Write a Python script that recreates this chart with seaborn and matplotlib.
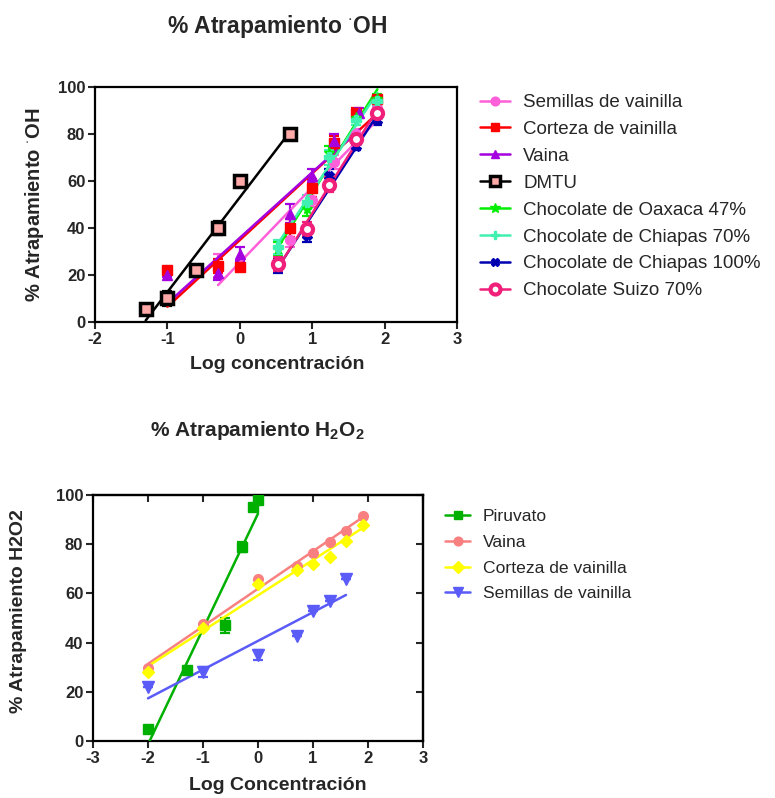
import matplotlib
matplotlib.use("Agg")
import matplotlib.pyplot as plt
from matplotlib.lines import Line2D
import pandas as pd
import seaborn as sns

# ---- top chart: % scavenging of OH radical ----
semillas_x = [-0.3, 0.7, 1.0, 1.3, 1.6, 1.9]
semillas_y = [24, 35, 52, 68, 80, 91]
semillas_err = [5, 3, 3, 3, 2, 2]

corteza_x = [-1.0, -0.3, 0.0, 0.7, 1.0, 1.3, 1.6, 1.9]
corteza_y = [22, 24, 23.5, 40, 57, 76, 89, 95]
corteza_err = [1, 3, 2, 4, 4, 3, 2, 1]

vaina_x = [-1.0, -0.3, 0.0, 0.7, 1.0, 1.3, 1.65]
vaina_y = [20, 21, 29, 46, 62, 77, 89]
vaina_err = [1, 3, 3, 4, 3, 3, 2]

dmtu_x = [-1.3, -1.0, -0.6, -0.3, 0.0, 0.7]
dmtu_y = [5.5, 10, 22, 40, 60, 80]
dmtu_err = [1, 3, 2, 3, 1, 1]

choc_x = [0.53, 0.93, 1.23, 1.6, 1.9]
oaxaca_y = [31, 48, 72, 87, 95]
chiapas70_y = [32, 51, 70, 86, 94]
chiapas100_y = [24, 37, 62, 75, 86]
suizo_y = [24.5, 39.5, 58.5, 78, 89]
choc_err = [3, 3, 3, 2, 2]

# ---- bottom chart: % scavenging of H2O2 ----
piruvato_x = [-2.0, -1.3, -0.6, -0.3, -0.1, 0.0]
piruvato_y = [5, 29, 47, 79, 95, 98]
piruvato_err = [0, 0, 3, 2, 0, 0]

vaina2_x = [-2.0, -1.0, 0.0, 0.7, 1.0, 1.3, 1.6, 1.9]
vaina2_y = [29.5, 47.5, 66, 71, 76.5, 81, 85.5, 91.5]

corteza2_x = [-2.0, -1.0, 0.0, 0.7, 1.0, 1.3, 1.6, 1.9]
corteza2_y = [28, 46, 64, 69.5, 72, 75, 81.5, 88]

semillas2_x = [-2.0, -1.0, 0.0, 0.7, 1.0, 1.3, 1.6]
semillas2_y = [22, 28, 35, 42.5, 53, 57, 66]
semillas2_err = [0, 2, 2, 0, 0, 0, 0]

sns.set_style("ticks")
plt.rcParams["font.family"] = ["Liberation Sans", "DejaVu Sans"]
plt.rcParams["mathtext.fontset"] = "custom"
plt.rcParams["mathtext.rm"] = "Liberation Sans:bold"
plt.rcParams["mathtext.bf"] = "Liberation Sans:bold"
plt.rcParams["axes.unicode_minus"] = False


def draw_series(ax, x, y, color, marker, ms, err=None, mfc=None, mec=None, mew=1.0, lw=1.8):
    df = pd.DataFrame({"x": x, "y": y})
    if err is not None:
        ax.errorbar(x, y, yerr=err, fmt="none", ecolor=mec or color, elinewidth=1.6,
                    capsize=3.5, capthick=1.6, zorder=2)
    sns.regplot(data=df, x="x", y="y", ax=ax, scatter=False, ci=None, truncate=True,
                color=color, line_kws={"lw": lw, "zorder": 3})
    ax.plot(x, y, ls="none", marker=marker, ms=ms, mfc=mfc or color, mec=mec or color,
            mew=mew, zorder=4)
    return Line2D([], [], color=color, lw=lw, marker=marker, ms=ms * 0.9, mfc=mfc or color,
                  mec=mec or color, mew=mew)


def style_axes(ax, mirror):
    for sp in ax.spines.values():
        sp.set_linewidth(1.6)
        sp.set_color("black")
    ax.tick_params(axis="both", direction="out", length=5, width=1.5, labelsize=12, pad=2)
    for lab in ax.get_xticklabels() + ax.get_yticklabels():
        lab.set_fontweight("bold")
    if mirror:
        top = ax.secondary_xaxis("top")
        top.set_xticks(ax.get_xticks())
        top.tick_params(direction="in", length=5, width=1.5, labeltop=False)
        top.spines["top"].set_linewidth(1.6)
        right = ax.secondary_yaxis("right")
        right.set_yticks(ax.get_yticks())
        right.tick_params(direction="in", length=5, width=1.5, labelright=False)
        right.spines["right"].set_linewidth(1.6)


fig = plt.figure(figsize=(7.75, 7.98), dpi=100)

# top axes
ax1 = fig.add_axes([95 / 775, 1 - 322 / 798, 362 / 775, 235 / 798])
h = []
h.append(draw_series(ax1, semillas_x, semillas_y, "#FF5FD8", "o", 7, err=semillas_err))
h.append(draw_series(ax1, corteza_x, corteza_y, "#FF0000", "s", 7, err=corteza_err))
h.append(draw_series(ax1, vaina_x, vaina_y, "#A400E0", "^", 7, err=vaina_err))
h.append(draw_series(ax1, dmtu_x, dmtu_y, "#000000", "s", 8, err=dmtu_err,
                     mfc="#FFA8A8", mec="#000000", mew=2.5))
h.append(draw_series(ax1, choc_x, oaxaca_y, "#00EE00", "*", 8, err=choc_err))
h.append(draw_series(ax1, choc_x, chiapas70_y, "#40F0B0", "P", 7, err=choc_err))
h.append(draw_series(ax1, choc_x, chiapas100_y, "#0000B0", "X", 7, err=choc_err))
h.append(draw_series(ax1, choc_x, suizo_y, "#F0207A", "o", 8, err=choc_err,
                     mfc="white", mec="#F0207A", mew=3))
ax1.set_xlim(-2, 3)
ax1.set_ylim(0, 100)
ax1.set_xticks(range(-2, 4))
ax1.set_yticks(range(0, 101, 20))
style_axes(ax1, mirror=False)
ax1.set_xlabel("Log concentración", fontsize=14, fontweight="bold")
ax1.set_ylabel(r"% Atrapamiento $^{\cdot}$OH", fontsize=14.5, fontweight="bold")
ax1.xaxis.set_label_coords(0.503, -0.145)
ax1.yaxis.set_label_coords(-0.135, 0.5)

labels1 = ["Semillas de vainilla", "Corteza de vainilla", "Vaina", "DMTU",
           "Chocolate de Oaxaca 47%", "Chocolate de Chiapas 70%",
           "Chocolate de Chiapas 100%", "Chocolate Suizo 70%"]
fig.legend(h, labels1, loc="upper left", bbox_to_anchor=(480 / 775, 1 - 94 / 798),
           frameon=False, fontsize=13.5, handlelength=1.6, handletextpad=0.7,
           labelspacing=0.52, borderpad=0, borderaxespad=0)

fig.text(277 / 775, 1 - 27 / 798, r"% Atrapamiento $^{\cdot}$OH", ha="center", va="center",
         fontsize=16.5, fontweight="bold")

# bottom axes
ax2 = fig.add_axes([93 / 775, 1 - 741 / 798, 330 / 775, 246 / 798])
h2 = []
h2.append(draw_series(ax2, piruvato_x, piruvato_y, "#00B000", "s", 7, err=piruvato_err))
h2.append(draw_series(ax2, vaina2_x, vaina2_y, "#F88080", "o", 7))
h2.append(draw_series(ax2, corteza2_x, corteza2_y, "#FFFF00", "D", 6.5))
h2.append(draw_series(ax2, semillas2_x, semillas2_y, "#5B5BF8", "v", 8, err=semillas2_err))
ax2.set_xlim(-3, 3)
ax2.set_ylim(0, 100)
ax2.set_xticks(range(-3, 4))
ax2.set_yticks(range(0, 101, 20))
style_axes(ax2, mirror=True)
ax2.set_xlabel("Log Concentración", fontsize=14, fontweight="bold")
ax2.set_ylabel("% Atrapamiento H2O2", fontsize=14, fontweight="bold")
ax2.xaxis.set_label_coords(0.56, -0.145)
ax2.yaxis.set_label_coords(-0.2, 0.528)

labels2 = ["Piruvato", "Vaina", "Corteza de vainilla", "Semillas de vainilla"]
fig.legend(h2, labels2, loc="upper left", bbox_to_anchor=(445 / 775, 1 - 509 / 798),
           frameon=False, fontsize=12.6, handlelength=1.45, handletextpad=0.7,
           labelspacing=0.6, borderpad=0, borderaxespad=0)

fig.text(257 / 775, 1 - 430 / 798, r"% Atrapamiento H$_2$O$_2$", ha="center", va="center",
         fontsize=15, fontweight="bold")

fig.savefig("out.png", dpi=100)
